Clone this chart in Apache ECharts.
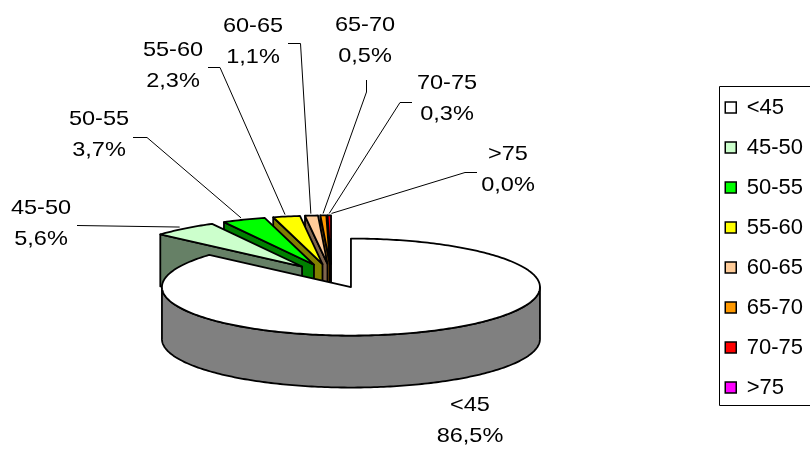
<!DOCTYPE html>
<html>
<head>
<meta charset="utf-8">
<script src="https://cdn.jsdelivr.net/npm/echarts@6/dist/echarts.min.js"></script>
<style>
  html, body { margin: 0; padding: 0; background: #ffffff; }
  #chart { width: 810px; height: 449px; }
</style>
</head>
<body>
<div id="chart"></div>
<script>
// Age groups and their share of the total (%)
const categories = ['<45', '45-50', '50-55', '55-60', '60-65', '65-70', '70-75', '>75'];
const shares = [86.5, 5.6, 3.7, 2.3, 1.1, 0.5, 0.3, 0.0];

// Face colours: top of each slice and its shaded side
const topColors = ['#ffffff', '#ccffcc', '#00ff00', '#ffff00', '#ffcc99', '#ff9900', '#ff0000', '#ff00ff'];
const sideColors = ['#808080', '#668066', '#008000', '#808000', '#80664d', '#804d00', '#800000', '#800080'];

// Tilted pie geometry in pixels (ellipse radii, thickness, explosion as a fraction of the radius)
const PIE = { cx: 331.5, cy: 276, rx: 189, ry: 48.5, depth: 52, explode: 0.25 };

// Label block centres and leader-line start / elbow points
const labelLayout = [
  { x: 470, y: 421 },
  { x: 41,  y: 224,   start: [77, 225.5] },
  { x: 99,  y: 134.5, start: [133, 137.5], elbow: [147, 137.5] },
  { x: 173, y: 65.5,  start: [208, 67.5],  elbow: [220, 67.5] },
  { x: 253, y: 41.5,  start: [288, 43.5],  elbow: [300.5, 43.5] },
  { x: 365, y: 41,    start: [366.5, 80],  elbow: [366.5, 92] },
  { x: 447, y: 98.5,  start: [412, 102.5], elbow: [400, 102.5] },
  { x: 508, y: 169.5, start: [477, 172.5], elbow: [465, 172.5] }
];

const total = shares.reduce((a, b) => a + b, 0);
// angular span of each slice, degrees clockwise from 12 o'clock
const spans = [];
let acc = 0;
shares.forEach(v => {
  const a0 = acc / total * 360;
  acc += v;
  spans.push([a0, acc / total * 360]);
});

const rad = d => d * Math.PI / 180;
const midAngle = i => (spans[i][0] + spans[i][1]) / 2;

function sliceCenter(i) {
  const m = rad(midAngle(i));
  return [PIE.cx + PIE.explode * PIE.rx * Math.sin(m),
          PIE.cy - PIE.explode * PIE.ry * Math.cos(m)];
}
function rim(c, deg, k, dy) {
  const t = rad(deg);
  return [c[0] + (k || 1) * PIE.rx * Math.sin(t), c[1] - (k || 1) * PIE.ry * Math.cos(t) + (dy || 0)];
}
function arc(c, a0, a1, dy) {
  const pts = [];
  const n = Math.max(1, Math.ceil(Math.abs(a1 - a0)));
  for (let j = 0; j <= n; j++) pts.push(rim(c, a0 + (a1 - a0) * j / n, 1, dy));
  return pts;
}

const edge = { stroke: '#000000', lineWidth: 1.8, lineJoin: 'round' };

function sliceShapes(i) {
  const a0 = spans[i][0], a1 = spans[i][1];
  if (a1 - a0 <= 0) return [];
  const c = sliceCenter(i);
  const d = PIE.depth;
  const side = Object.assign({ fill: sideColors[i] }, edge);
  const out = [];
  const cutFace = a => {
    const p = rim(c, a);
    out.push({ type: 'polygon', shape: { points: [c, p, [p[0], p[1] + d], [c[0], c[1] + d]] }, style: side });
  };
  // radial cut faces turned towards the viewer
  if (Math.sin(rad(a0)) < -1e-6) cutFace(a0);
  if (Math.sin(rad(a1)) > 1e-6) cutFace(a1);
  // front part of the outer wall
  const w0 = Math.max(a0, 90), w1 = Math.min(a1, 270);
  if (w1 > w0) {
    const pts = arc(c, w0, w1, 0).concat(arc(c, w0, w1, d).reverse());
    out.push({ type: 'polygon', shape: { points: pts }, style: side });
  }
  // top face
  out.push({ type: 'polygon', shape: { points: [c].concat(arc(c, a0, a1, 0)) },
             style: Object.assign({ fill: topColors[i] }, edge) });
  return out;
}

// back slices are painted first
const drawOrder = categories.map((_, i) => i)
  .sort((a, b) => Math.cos(rad(midAngle(b))) - Math.cos(rad(midAngle(a))));

const sliceSeries = drawOrder.map(i => ({
  type: 'custom',
  name: categories[i],
  coordinateSystem: 'none',
  silent: true,
  animation: false,
  itemStyle: { color: topColors[i], borderColor: '#000', borderWidth: 1.5 },
  data: [{ name: categories[i], value: shares[i] }],
  renderItem: () => ({ type: 'group', children: sliceShapes(i) })
}));

const fmtShare = v => (v / total * 100).toFixed(1).replace('.', ',') + '%';

const labelSeries = {
  type: 'custom',
  name: 'labels',
  coordinateSystem: 'none',
  silent: true,
  animation: false,
  z: 10,
  data: categories.map((n, i) => ({ name: n, value: shares[i] })),
  renderItem: (params) => {
    const i = params.dataIndex;
    const L = labelLayout[i];
    const children = [];
    if (L.start) {
      const end = rim(sliceCenter(i), midAngle(i), 1.04);
      const pts = [L.start].concat(L.elbow ? [L.elbow] : []).concat([end]);
      children.push({ type: 'polyline', shape: { points: pts },
                      style: { stroke: '#000', lineWidth: 1, fill: null } });
    }
    children.push({
      type: 'text', x: L.x, y: L.y, scaleX: 1.12,
      style: {
        text: categories[i] + '\n' + fmtShare(shares[i]),
        font: '21px "Liberation Sans", Arial, sans-serif',
        fill: '#000', align: 'center', verticalAlign: 'middle', lineHeight: 31
      }
    });
    return { type: 'group', children };
  }
};

const chart = echarts.init(document.getElementById('chart'), null, { renderer: 'canvas' });
chart.setOption({
  backgroundColor: '#ffffff',
  animation: false,
  legend: {
    orient: 'vertical',
    left: 719.5,
    top: 86.5,
    padding: [10, 70, 7, 5],
    itemGap: 18,
    itemWidth: 22,
    itemHeight: 11,
    icon: 'path://M0 0H10V10H0Z',
    borderColor: '#000',
    borderWidth: 1,
    selectedMode: false,
    textStyle: { fontFamily: 'Liberation Sans', fontSize: 22, color: '#000', lineHeight: 22 },
    data: categories.map((n, i) => ({
      name: n,
      itemStyle: { color: topColors[i], borderColor: '#000', borderWidth: 1.5 }
    }))
  },
  series: sliceSeries.concat([labelSeries])
});
</script>
</body>
</html>
